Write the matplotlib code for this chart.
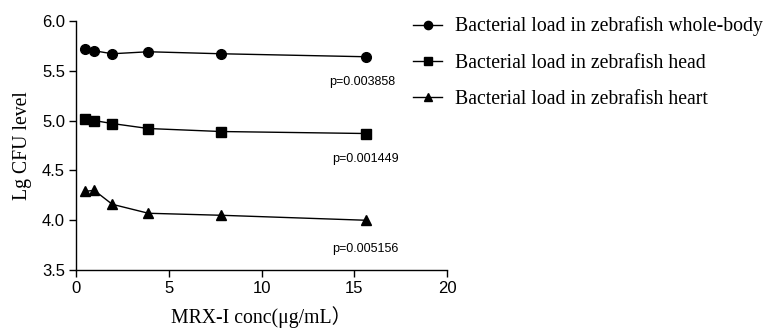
import matplotlib
matplotlib.use("Agg")
import matplotlib.pyplot as plt

conc = [0.49, 0.98, 1.95, 3.9, 7.8, 15.6]
whole_body = [5.72, 5.70, 5.67, 5.69, 5.67, 5.64]
head = [5.02, 5.00, 4.97, 4.92, 4.89, 4.87]
heart = [4.29, 4.30, 4.16, 4.07, 4.05, 4.00]
labels = ["Bacterial load in zebrafish whole-body",
          "Bacterial load in zebrafish head",
          "Bacterial load in zebrafish heart"]
pvals = ["p=0.003858", "p=0.001449", "p=0.005156"]
p_pos = [(13.65, 5.39), (13.8, 4.61), (13.8, 3.71)]

fig = plt.figure(figsize=(7.64, 3.31), dpi=100)
ax = fig.add_axes([0.0995, 0.184, 0.486, 0.753])
for y, m, lab in zip([whole_body, head, heart], ["o", "s", "^"], labels):
    ax.plot(conc, y, marker=m, color="black", lw=1.0, ms=7, label=lab)

for t, (x, y) in zip(pvals, p_pos):
    ax.text(x, y, t, fontsize=9, family="Liberation Sans", va="center", ha="left")

ax.set_xlim(0, 20)
ax.set_ylim(3.5, 6.0)
ax.set_xticks([0, 5, 10, 15, 20])
ax.set_yticks([3.5, 4.0, 4.5, 5.0, 5.5, 6.0])
ax.set_yticklabels(["3.5", "4.0", "4.5", "5.0", "5.5", "6.0"])
ax.spines["top"].set_visible(False)
ax.spines["right"].set_visible(False)
for s in ["left", "bottom"]:
    ax.spines[s].set_linewidth(1.0)
ax.tick_params(direction="out", length=5, width=1.0, labelsize=12, pad=3)
for lab in ax.get_xticklabels() + ax.get_yticklabels():
    lab.set_family("Liberation Sans")
ax.set_xlabel("MRX-I conc(μg/mL）", family=["Liberation Serif", "Noto Sans CJK SC"], fontsize=14.2, labelpad=7)
ax.set_ylabel("Lg CFU level", family="Liberation Serif", fontsize=14.2, labelpad=7)

leg = fig.legend(*ax.get_legend_handles_labels(), loc="upper left",
                 bbox_to_anchor=(0.5406, 0.95), bbox_transform=fig.transFigure,
                 frameon=False, borderpad=0, borderaxespad=0,
                 prop={"family": "Liberation Serif", "size": 14.2},
                 handlelength=1.47, labelspacing=0.88, handletextpad=0.66,
                 markerscale=0.85)

fig.savefig("out.png", dpi=100)
